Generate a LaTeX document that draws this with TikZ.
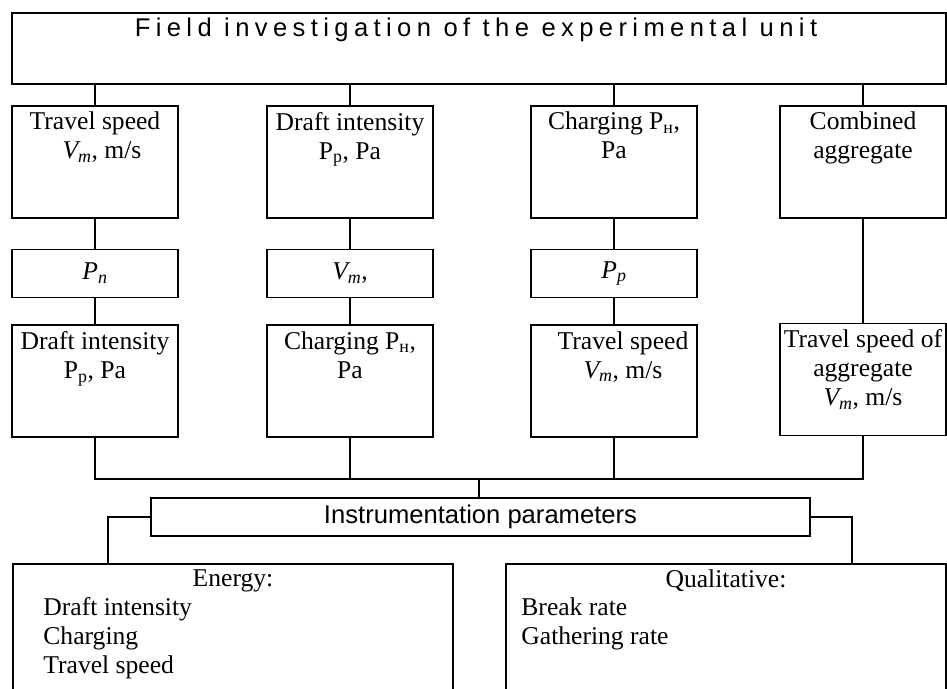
\documentclass[tikz,border=0pt]{standalone}
\usepackage{fontspec}
\setmainfont{Liberation Serif}
\newfontfamily\titlesans[LetterSpace=21]{Liberation Sans}
\newfontfamily\plainsans{Liberation Sans}
\usetikzlibrary{positioning}

\begin{document}
\begin{tikzpicture}[
  x=1pt, y=-1pt,
  font=\fontsize{25.6}{29}\selectfont,
  box/.style={draw, line width=1.6pt, inner sep=0pt},
  cell/.style={box, minimum width=166, minimum height=112, anchor=north},
  slot/.style={box, minimum width=166, minimum height=48},
  lbl/.style={anchor=north, align=center, inner sep=0pt, yshift=-7pt},
  lst/.style={anchor=north west, align=left, inner sep=0pt},
  link/.style={line width=1.6pt},
]
\useasboundingbox (0,0) rectangle (947,688);
\clip (0,0) rectangle (947,688);

% Title block
\node[box, minimum width=934, minimum height=71, anchor=north,
      label={[lbl, yshift=1pt, xshift=-3pt, font={\titlesans\fontsize{25.6}{29}\selectfont}]north:Field investigation of the experimental unit}]
      (field) at (479,12) {};

% First row of parameters
\node[cell, label={[lbl]north:{Travel speed\\\hspace*{14pt}\textit{V\textsubscript{m}}, m/s}}] (speedA) at (95,105) {};
\node[cell, label={[lbl]north:{Draft intensity\\P\textsubscript{p}, Pa}}] (draftA) at (350,105) {};
\node[cell, label={[lbl]north:{Charging P\textsubscript{н},\\Pa}}] (chargeA) at (614,105) {};
\node[cell, label={[lbl]north:{Combined\\aggregate}}] (aggr) at (863,105) {};

% Fixed parameters
\node[slot, below=30pt of speedA] (pn) {\textit{P\textsubscript{n}}};
\node[slot, below=30pt of draftA] (vm) {\textit{V\textsubscript{m}},};
\node[slot, below=30pt of chargeA] (pp) {\textit{P\textsubscript{p}}};

% Second row of parameters
\node[cell, below=26pt of pn, label={[lbl]north:{Draft intensity\\P\textsubscript{p}, Pa}}] (draftB) {};
\node[cell, below=26pt of vm, label={[lbl]north:{Charging P\textsubscript{н},\\Pa}}] (chargeB) {};
\node[cell, below=26pt of pp, label={[lbl, xshift=9pt]north:{Travel speed\\\textit{V\textsubscript{m}}, m/s}}] (speedB) {};
\node[cell, below=104pt of aggr, label={[lbl]north:{Travel speed of\\aggregate\\\textit{V\textsubscript{m}}, m/s}}] (speedAggr) {};

% Instrumentation
\node[box, minimum width=659, minimum height=38, anchor=north, font={\plainsans\fontsize{25.6}{29}\selectfont}]
      (instr) at (480.5,497) {Instrumentation parameters};

% Result groups
\node[box, minimum width=440, minimum height=150, anchor=north,
      label={[lbl]north:Energy:},
      label={[lst, xshift=31pt, yshift=-34pt]north west:{Draft intensity\\Charging\\Travel speed}}]
      (energy) at (233,563) {};
\node[box, minimum width=440, minimum height=150, anchor=north,
      label={[lbl]north:Qualitative:},
      label={[lst, xshift=16pt, yshift=-35pt]north west:{Break rate\\Gathering rate}}]
      (quality) at (726,563) {};

% Connectors
\draw[link] (speedA.north) -- (speedA.north |- field.south);
\draw[link] (draftA.north) -- (draftA.north |- field.south);
\draw[link] (chargeA.north) -- (chargeA.north |- field.south);
\draw[link] (aggr.north) -- (aggr.north |- field.south);

\draw[link] (speedA) -- (pn);
\draw[link] (pn) -- (draftB);
\draw[link] (draftA) -- (vm);
\draw[link] (vm) -- (chargeB);
\draw[link] (chargeA) -- (pp);
\draw[link] (pp) -- (speedB);
\draw[link] (aggr) -- (speedAggr);

\coordinate (hub) at (479,479);
\draw[link] (draftB.south) |- (speedAggr.south |- hub) -- (speedAggr.south);
\draw[link] (chargeB.south) -- (chargeB.south |- hub);
\draw[link] (speedB.south) -- (speedB.south |- hub);
\draw[link] (hub) -- (hub |- instr.north);

\coordinate (eTap) at (108,563);
\coordinate (qTap) at (852,563);
\draw[link] (instr.west) -| (eTap);
\draw[link] (instr.east) -| (qTap);

\end{tikzpicture}
\end{document}
